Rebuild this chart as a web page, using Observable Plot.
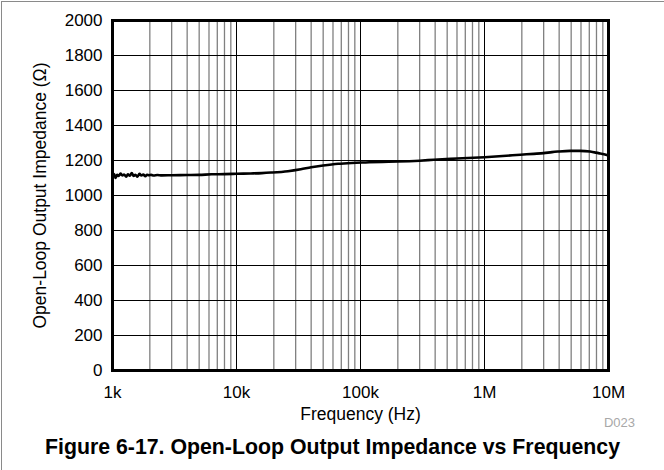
<!DOCTYPE html>
<html>
<head>
<meta charset="utf-8">
<script src="https://cdn.jsdelivr.net/npm/d3@7"></script>
<script src="https://cdn.jsdelivr.net/npm/@observablehq/plot@0.6"></script>
<style>
  html, body { margin: 0; padding: 0; background: #fff; }
  #wrap { position: relative; width: 664px; height: 470px; overflow: hidden; }
  #border { position: absolute; left: 1px; top: 1px; right: -2px; bottom: -2px;
            border-left: 1px solid #8a8a8a; border-top: 1px solid #8a8a8a; pointer-events: none; }
  svg { display: block; }
</style>
</head>
<body>
<div id="wrap"><div id="border"></div></div>
<script>
// ---- data ----
const freqHz = [
  1000, 1030, 1060, 1090, 1120, 1160, 1200, 1240, 1290, 1330, 1380, 1430, 1480, 1530,
  1590, 1650, 1710, 1770, 1840, 1900, 1970, 2050, 2150, 2300, 2500, 3000, 4000, 5000,
  6300, 8000, 10000, 13000, 16000, 19000, 26000, 33000, 40000, 50000, 66000, 85000,
  110000, 150000, 200000, 300000, 390000, 600000, 1000000, 1500000, 1950000, 2500000,
  3000000, 3500000, 3900000, 4900000, 5900000, 7100000, 8300000, 9200000, 10000000
];
const impedanceOhm = [
  1110, 1122, 1100, 1118, 1112, 1125, 1115, 1120, 1108, 1121, 1113, 1128, 1112, 1119,
  1108, 1124, 1114, 1120, 1110, 1119, 1116, 1118, 1114, 1117, 1115, 1116, 1117, 1118,
  1121, 1122, 1124, 1126, 1128, 1131, 1139, 1150, 1161, 1171, 1181, 1186,
  1189, 1192, 1194, 1199, 1204, 1211, 1219, 1227, 1233, 1238,
  1242, 1248, 1251, 1255, 1255, 1251, 1242, 1236, 1229
];
const xMajorTicks = [1e3, 1e4, 1e5, 1e6, 1e7];
const xTickLabels = ["1k", "10k", "100k", "1M", "10M"];
const minorMultipliers = [2, 3, 4, 5, 6, 7, 8, 9];
const yTicks = [0, 200, 400, 600, 800, 1000, 1200, 1400, 1600, 1800, 2000];

const xLabel = "Frequency (Hz)";
const yLabel = "Open-Loop Output Impedance (Ω)";
const figTitle = "Figure 6-17. Open-Loop Output Impedance vs Frequency";
const figCode = "D023";

// ---- build ----
const data = freqHz.map((f, i) => ({f, z: impedanceOhm[i]}));
const xMinor = xMajorTicks.slice(0, -1).flatMap(d => minorMultipliers.map(m => d * m));
const labelOf = new Map(xMajorTicks.map((t, i) => [t, xTickLabels[i]]));
const font = "'Liberation Sans', Arial, Helvetica, sans-serif";

const chart = Plot.plot({
  width: 664,
  height: 470,
  marginLeft: 112,
  marginRight: 56,
  marginTop: 20,
  marginBottom: 100,
  style: {fontFamily: font, fontSize: "17px", color: "#000", background: "#fff", overflow: "visible"},
  x: {type: "log", domain: [1e3, 1e7]},
  y: {domain: [0, 2000]},
  marks: [
    Plot.ruleX(xMinor, {stroke: "#808080", strokeWidth: 1.3}),
    Plot.ruleX(xMajorTicks, {stroke: "#000", strokeWidth: 1}),
    Plot.ruleY(yTicks, {stroke: "#000", strokeWidth: 1}),
    Plot.line(data, {x: "f", y: "z", stroke: "#000", strokeWidth: 2.6, curve: "monotone-x"}),
    Plot.frame({stroke: "#000", strokeWidth: 3}),
    Plot.axisX(xMajorTicks, {tickSize: 0, tickPadding: 15, tickFormat: d => labelOf.get(d), label: null, fontSize: 17}),
    Plot.axisY(yTicks, {tickSize: 0, tickPadding: 10, tickFormat: d => String(d), label: null, fontSize: 17}),
    Plot.text([xLabel], {frameAnchor: "bottom", dy: 44, textAnchor: "middle", lineAnchor: "middle", fontSize: 17.5, fill: "#000"}),
    Plot.text([yLabel], {frameAnchor: "left", dx: -72, rotate: -90, textAnchor: "middle", lineAnchor: "middle", fontSize: 17.5, fill: "#000"}),
    Plot.text([figCode], {frameAnchor: "bottom-right", dx: 11, dy: 52, textAnchor: "middle", lineAnchor: "middle", fontSize: 13, fill: "#a8a8a8"}),
    Plot.text([figTitle], {frameAnchor: "bottom", dx: -28, dy: 77, textAnchor: "middle", lineAnchor: "middle", fontSize: 21.3, fontWeight: "bold", fill: "#000"})
  ]
});
document.getElementById("wrap").insertBefore(chart, document.getElementById("border"));
</script>
</body>
</html>
